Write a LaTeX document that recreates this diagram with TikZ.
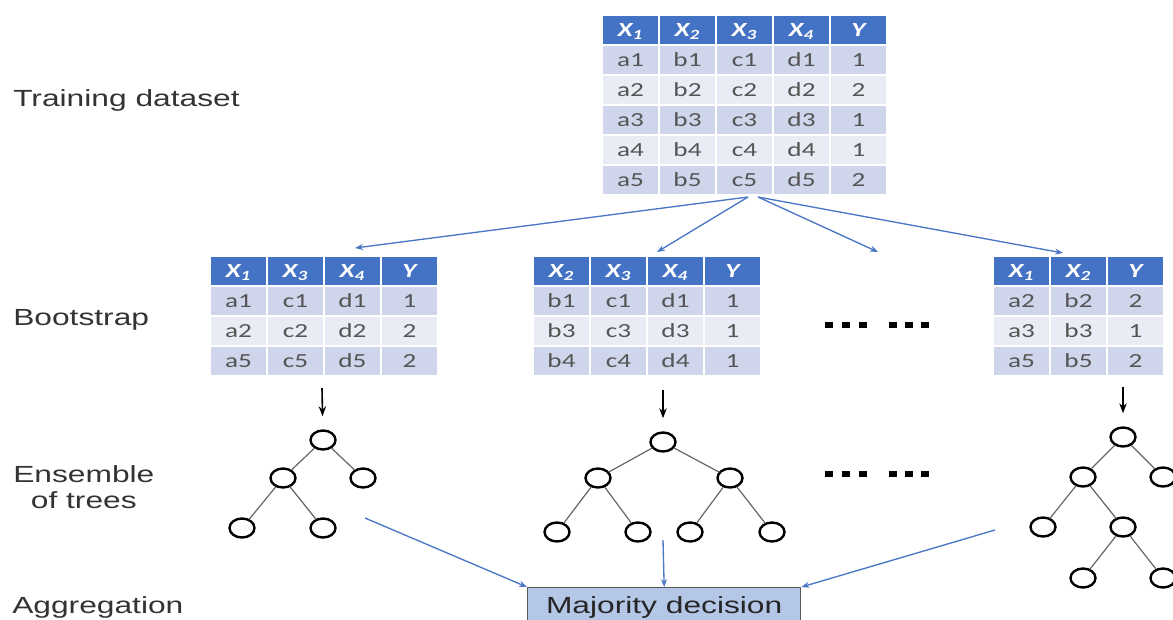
\documentclass[tikz,border=0pt]{standalone}
\usepackage{fontspec}
\usepackage{graphicx}
\setmainfont{Liberation Sans}
\newfontfamily\cellfont{Carlito}
\usetikzlibrary{arrows.meta,shapes.geometric}

\definecolor{headblue}{HTML}{4472C4}
\definecolor{rowdark}{HTML}{CFD5EA}
\definecolor{rowlight}{HTML}{E9EBF5}
\definecolor{linkblue}{HTML}{4A76C6}
\definecolor{votefill}{HTML}{B4C7E7}
\definecolor{celltext}{HTML}{555555}

\newcommand{\wide}[1]{\scalebox{1.36}[1]{#1}}

% #1 name, #2 left, #3 top, #4 header, #5 rows
\newcommand{\datatable}[5]{%
  \foreach \h [count=\ci] in {#4}
    \node[headcell] (#1-0-\ci) at (#2+\ci*57-57,#3) {\wide{\h}};
  \foreach \row [count=\ri] in {#5}{%
    \ifodd\ri\relax \def\rowcol{rowdark}\else \def\rowcol{rowlight}\fi
    \foreach \v [count=\ci] in \row
      \node[datacell, fill=\rowcol] (#1-\ri-\ci) at (#2+\ci*57-57,#3+\ri*30) {\wide{\v}};
  }%
}

\tikzset{
  cell/.style={anchor=north west, draw=white, line width=1.5pt, inner sep=0pt,
    minimum width=42.75pt, minimum height=22.5pt, text height=9.5pt, text depth=0pt},
  headcell/.style={cell, fill=headblue, text=white, font=\cellfont\bfseries\itshape\fontsize{15}{18}\selectfont},
  datacell/.style={cell, text=celltext, font=\cellfont\fontsize{15}{18}\selectfont},
  rowlabel/.style={anchor=base west, inner sep=0pt, text=black!80, font=\fontsize{17.5}{19.5}\selectfont},
  knot/.style={ellipse, draw=black, line width=1.8pt, minimum width=18.75pt, minimum height=14.25pt, inner sep=0pt},
  branch/.style={draw=black!60, line width=0.9pt},
  link/.style={draw=linkblue, line width=1pt, -{Stealth[length=6pt,width=4.5pt]}},
  down/.style={draw=black, line width=1.2pt, -{Stealth[length=7.5pt,width=5.5pt]}, shorten >=9.75pt},
  votebox/.style={anchor=north west, draw=black!65, line width=1pt, fill=votefill, text=black!85,
    minimum width=204.75pt, inner ysep=7.5pt, text height=12pt, text depth=7.5pt,
    font=\fontsize{17.5}{19.5}\selectfont}
}

\begin{document}
\begin{tikzpicture}[x=0.75pt,y=0.75pt,yscale=-1]
\useasboundingbox (0,0) rectangle (1173,619);

% Text Node
\node[rowlabel] (lbtrain) at (13,106) {\wide{Training dataset}};
% Text Node
\node[rowlabel] (lbboot) at (13,325) {\wide{Bootstrap}};
% Text Node
\node[rowlabel, align=center] (lbtrees) at (13,508) {\wide{Ensemble}\\\wide{of trees}};
% Text Node
\node[rowlabel] (lbagg) at (12,613) {\wide{Aggregation}};

%Shape: Tables
\datatable{full}{601}{14}{X\textsubscript{1},X\textsubscript{2},X\textsubscript{3},X\textsubscript{4},Y}
  {{a1,b1,c1,d1,1},{a2,b2,c2,d2,2},{a3,b3,c3,d3,1},{a4,b4,c4,d4,1},{a5,b5,c5,d5,2}}
\datatable{bootA}{209}{255}{X\textsubscript{1},X\textsubscript{3},X\textsubscript{4},Y}
  {{a1,c1,d1,1},{a2,c2,d2,2},{a5,c5,d5,2}}
\datatable{bootB}{532}{255}{X\textsubscript{2},X\textsubscript{3},X\textsubscript{4},Y}
  {{b1,c1,d1,1},{b3,c3,d3,1},{b4,c4,d4,1}}
\datatable{bootC}{992}{255}{X\textsubscript{1},X\textsubscript{2},Y}
  {{a2,b2,2},{a3,b3,1},{a5,b5,2}}

%Straight Lines: sampling
\coordinate (splitL) at (748,197);
\coordinate (splitR) at (758,197);
\coordinate (tipA) at (355,248);
\coordinate (tipB) at (657,252);
\coordinate (tipC) at (878,252);
\coordinate (tipD) at (1063,253);
\draw[link] (splitL) -- (tipA);
\draw[link] (splitL) -- (tipB);
\draw[link] (splitR) -- (tipC);
\draw[link] (splitR) -- (tipD);

%Shape: Dots
\foreach \dx in {0,17,34,64,80,96} {
  \fill (825+\dx,322) rectangle ++(8,6);
  \fill (825+\dx,471) rectangle ++(8,6);
}

%Shape: Trees
\node[knot] (root1) at (323,440) {};
\node[knot] (n1l) at (283,478) {};
\node[knot] (n1r) at (363,478) {};
\node[knot] (n1ll) at (242,528) {};
\node[knot] (n1lr) at (323,528) {};

\node[knot] (root2) at (663,442) {};
\node[knot] (n2l) at (598,478) {};
\node[knot] (n2r) at (730,478) {};
\node[knot] (n2ll) at (557,532) {};
\node[knot] (n2lr) at (638,532) {};
\node[knot] (n2rl) at (690,532) {};
\node[knot] (n2rr) at (772,532) {};

\node[knot] (root3) at (1123,437) {};
\node[knot] (n3l) at (1083,477) {};
\node[knot] (n3r) at (1163,477) {};
\node[knot] (n3ll) at (1043,527) {};
\node[knot] (n3lr) at (1123,527) {};
\node[knot] (n3lrl) at (1083,578) {};
\node[knot] (n3lrr) at (1163,578) {};

%Straight Lines: branches
\foreach \a/\b in {root1/n1l,root1/n1r,n1l/n1ll,n1l/n1lr,
  root2/n2l,root2/n2r,n2l/n2ll,n2l/n2lr,n2r/n2rl,n2r/n2rr,
  root3/n3l,root3/n3r,n3l/n3ll,n3l/n3lr,n3lr/n3lrl,n3lr/n3lrr}
  \draw[branch] (\a) -- (\b);

%Straight Lines: bootstrap to tree
\coordinate (down1) at (322,388);
\coordinate (down2) at (663,390);
\coordinate (down3) at (1123,387);
\draw[down] (down1) -- (root1);
\draw[down] (down2) -- (root2);
\draw[down] (down3) -- (root3);

% Text Node
\node[votebox] (vote) at (527,587) {\wide{Majority decision}};

%Straight Lines: aggregation
\coordinate (from1) at (365,518);
\coordinate (from2) at (663,540);
\coordinate (from3) at (995,530);
\draw[link] (from1) -- (vote.north west);
\draw[link] (from2) -- (vote.north);
\draw[link] (from3) -- (vote.north east);

\end{tikzpicture}
\end{document}
